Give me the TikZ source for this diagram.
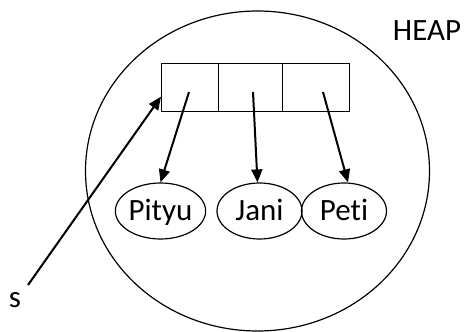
\documentclass[tikz,border=0pt]{standalone}
\usepackage{fontspec}
\setmainfont[Ligatures=NoCommon]{Carlito}
\usetikzlibrary{shapes.geometric,arrows.meta}
\begin{document}
\begin{tikzpicture}[x=1pt,y=-1pt,
  lbl/.style={font=\fontsize{31}{36}\selectfont, inner sep=0pt},
  cell/.style={draw, line width=1.4pt, minimum height=48pt, inner sep=0pt, anchor=north west},
  obj/.style={draw, ellipse, line width=1.2pt, minimum width=85pt, minimum height=56pt, inner sep=0pt,
    font=\fontsize{31}{36}\selectfont, text height=19pt, text depth=0pt},
  ptr/.style={line width=2pt, -{Triangle[length=13pt,width=11pt]}}]
\useasboundingbox (0,0) rectangle (467,332);
% heap
\draw[line width=1.2pt] (257.5,171) ellipse [x radius=172, y radius=160];
\node[lbl] (heap) at (427,31) {HEAP};
% array cells
\node[cell, minimum width=57pt] (c1) at (161,63) {};
\node[cell, minimum width=64pt] (c2) at (218,63) {};
\node[cell, minimum width=67pt] (c3) at (282,63) {};
% objects
\node[obj] (pityu) at (160.5,211) {Pityu};
\node[obj] (jani) at (259.5,211) {Jani};
\node[obj] (peti) at (344,211) {Peti};
% pointers
\coordinate (a1) at (189,92);
\coordinate (a2) at (253,92);
\coordinate (a3) at (323,92);
\draw[ptr] (a1) -- (pityu.north);
\draw[ptr] (a2) -- ([xshift=-2pt]jani.north);
\draw[ptr] (a3) -- ([xshift=4pt]peti.north);
% s
\node[lbl] (s) at (15,300) {s};
\coordinate (sstart) at (28,285);
\draw[ptr] (sstart) -- ([yshift=-9pt]c1.west);
\end{tikzpicture}
\end{document}
